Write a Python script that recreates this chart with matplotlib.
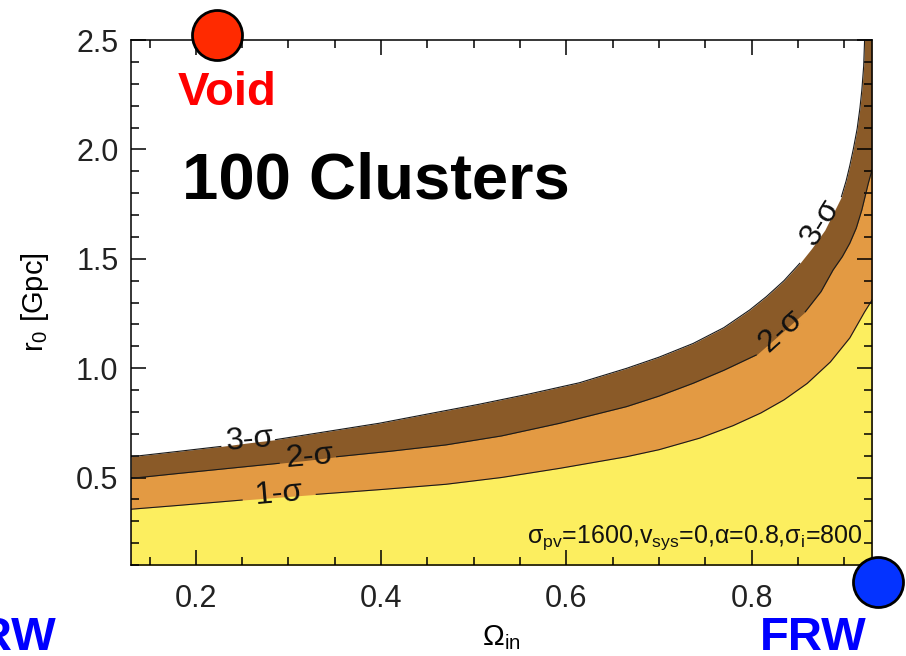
import numpy as np
import matplotlib
matplotlib.use("Agg")
import matplotlib.pyplot as plt
from matplotlib.ticker import MultipleLocator, FormatStrFormatter

plt.rcParams['font.family'] = ['Liberation Sans', 'DejaVu Sans']

# confidence contour boundaries in (Omega_in, r0 [Gpc])
omega_3s = [0.13, 0.18, 0.227, 0.258, 0.286, 0.398, 0.45, 0.506, 0.56, 0.614,
            0.665, 0.70, 0.737, 0.77, 0.798, 0.816, 0.835, 0.852, 0.865, 0.879,
            0.897, 0.902, 0.906, 0.910, 0.914, 0.917, 0.919, 0.921, 0.922, 0.93]
r0_3s = [0.595, 0.619, 0.642, 0.659, 0.673, 0.748, 0.79, 0.835, 0.882, 0.933,
         0.999, 1.05, 1.113, 1.185, 1.266, 1.327, 1.40, 1.479, 1.548, 1.631,
         1.784, 1.855, 1.925, 2.005, 2.095, 2.19, 2.27, 2.38, 2.5, 2.5]

omega_2s = [0.13, 0.18, 0.29, 0.323, 0.352, 0.41, 0.47, 0.53, 0.593, 0.665,
            0.70, 0.737, 0.77, 0.805, 0.832, 0.858, 0.875, 0.888, 0.898, 0.906,
            0.913, 0.919, 0.926, 0.93]
r0_2s = [0.496, 0.518, 0.565, 0.580, 0.595, 0.62, 0.649, 0.69, 0.748, 0.824,
         0.872, 0.931, 0.99, 1.06, 1.16, 1.258, 1.35, 1.449, 1.51, 1.571,
         1.64, 1.723, 1.845, 1.906]

omega_1s = [0.13, 0.18, 0.25, 0.29, 0.33, 0.40, 0.47, 0.53, 0.593, 0.665,
            0.70, 0.744, 0.78, 0.81, 0.835, 0.86, 0.885, 0.906, 0.922, 0.93]
r0_1s = [0.355, 0.372, 0.397, 0.41, 0.423, 0.445, 0.469, 0.50, 0.542, 0.595,
         0.627, 0.68, 0.737, 0.795, 0.855, 0.93, 1.028, 1.138, 1.257, 1.311]

contour_names = ['3-σ', '2-σ', '1-σ']
fill_colors = ['#8a5a28', '#e39a43', '#fcee5f']

# where the inline labels sit: (omega, r0, rotation) and the line gap they leave
label_spots = {
    '3-σ': [(0.258, 0.671, 5), (0.875, 1.668, 58)],
    '2-σ': [(0.323, 0.594, 5), (0.832, 1.170, 42)],
    '1-σ': [(0.290, 0.425, 5)],
}
line_gaps = {
    '3-σ': [(0.227, 0.286), (0.852, 0.897)],
    '2-σ': [(0.29, 0.352), (0.805, 0.858)],
    '1-σ': [(0.25, 0.33)],
}

fig = plt.figure(figsize=(9.06, 6.56), dpi=100)
ax = fig.add_axes([131 / 906, 1 - 565 / 656, 741 / 906, 525 / 656])

curves = [(omega_3s, r0_3s), (omega_2s, r0_2s), (omega_1s, r0_1s)]
for (om, r0), col in zip(curves, fill_colors):
    ax.fill_between(om, 0, r0, color=col, lw=0, zorder=1)

for name, (om, r0) in zip(contour_names, curves):
    om = np.asarray(om)
    r0 = np.asarray(r0, dtype=float).copy()
    for a, b in line_gaps[name]:
        r0[(om > a) & (om < b)] = np.nan
    ax.plot(om, r0, color='#1a1a1a', lw=0.8, zorder=2)
    for x, y, rot in label_spots[name]:
        ax.text(x, y, name, fontsize=23, ha='center', va='center',
                rotation=rot, rotation_mode='anchor', color='#111', zorder=3)

ax.set_xlim(0.13, 0.93)
ax.set_ylim(0.1, 2.5)

ax.xaxis.set_major_locator(MultipleLocator(0.2))
ax.xaxis.set_minor_locator(MultipleLocator(0.05))
ax.yaxis.set_major_locator(MultipleLocator(0.5))
ax.yaxis.set_minor_locator(MultipleLocator(0.1))
ax.xaxis.set_major_formatter(FormatStrFormatter('%.1f'))
ax.yaxis.set_major_formatter(FormatStrFormatter('%.1f'))

ax.tick_params(which='both', direction='in', top=True, right=True,
               labelsize=22, labelcolor='#222', width=1.1)
ax.tick_params(which='major', length=11)
ax.tick_params(which='minor', length=5.5)
ax.tick_params(axis='x', pad=14)
ax.tick_params(axis='y', pad=9)
for sp in ax.spines.values():
    sp.set_linewidth(1.1)
    sp.set_zorder(4)

ax.set_xlabel('Ω$_{\\mathregular{in}}$', fontsize=21, labelpad=6)
ax.set_ylabel('r$_{\\mathregular{0}}$ [Gpc]', fontsize=21, labelpad=18)

ax.text(0.92, 0.2,
        'σ$_{\\mathregular{pv}}$=1600,v$_{\\mathregular{sys}}$=0,α=0.8,σ$_{\\mathregular{i}}$=800',
        fontsize=18, ha='right', va='baseline', color='#111', zorder=3)

# model end points: void and FRW
ax.plot([0.223], [2.523], 'o', ms=36, mfc='#ff2a00', mec='black', mew=2,
        clip_on=False, zorder=10)
ax.plot([0.937], [0.024], 'o', ms=36, mfc='#0433ff', mec='black', mew=2,
        clip_on=False, zorder=10)

ax.text(0.180, 2.203, 'Void', fontsize=34, fontweight='bold', color='#ff0000',
        va='baseline', zorder=5)
ax.text(0.185, 1.776, '100 Clusters', fontsize=47, fontweight='bold',
        color='black', va='baseline', zorder=5)

fig.text(760 / 906, 1 - 650 / 656, 'FRW', fontsize=34, fontweight='bold',
         color='#0000ff', va='baseline')
fig.text(57 / 906, 1 - 650 / 656, 'FRW', fontsize=34, fontweight='bold',
         color='#0000ff', va='baseline', ha='right')

fig.savefig('out.png', dpi=100)
